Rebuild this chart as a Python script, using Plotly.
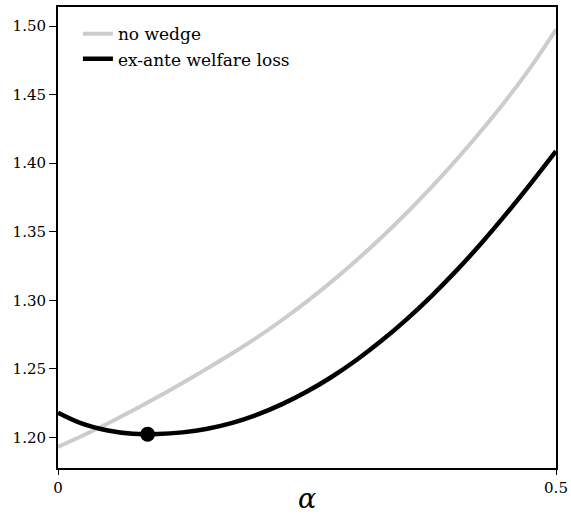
import plotly.graph_objects as go

alpha = [0.000, 0.025, 0.050, 0.075, 0.100, 0.125, 0.150, 0.175, 0.200, 0.225,
         0.250, 0.275, 0.300, 0.325, 0.350, 0.375, 0.400, 0.425, 0.450, 0.475, 0.500]

no_wedge = [1.1930, 1.2013, 1.2101, 1.2195, 1.2294, 1.2397, 1.2503, 1.2613, 1.2729, 1.2856,
            1.2992, 1.3138, 1.3294, 1.3460, 1.3637, 1.3825, 1.4025, 1.4237, 1.4462, 1.4705, 1.4975]

welfare_loss = [1.2180, 1.2098, 1.2050, 1.2026, 1.2024, 1.2036, 1.2062, 1.2105, 1.2165, 1.2242,
                1.2334, 1.2442, 1.2566, 1.2706, 1.2861, 1.3031, 1.3216, 1.3416, 1.3630, 1.3855, 1.4088]

min_alpha = [0.09]
min_loss = [1.2022]

y_ticks = [1.20, 1.25, 1.30, 1.35, 1.40, 1.45, 1.50]
x_ticks = [0, 0.5]
x_tick_labels = ["0", "0.5"]
x_title = "<i>α</i>"

FONT = "DejaVu Serif"

fig = go.Figure()
fig.add_trace(go.Scatter(x=alpha, y=no_wedge, mode="lines", name="no wedge",
                         line=dict(color="#cccccc", width=4, shape="spline", smoothing=1.0)))
fig.add_trace(go.Scatter(x=alpha, y=welfare_loss, mode="lines", name="ex-ante welfare loss",
                         line=dict(color="black", width=4.5, shape="spline", smoothing=1.0)))
fig.add_trace(go.Scatter(x=min_alpha, y=min_loss, mode="markers", showlegend=False,
                         marker=dict(color="black", size=15)))

fig.update_layout(
    width=571, height=517,
    margin=dict(l=58, r=15, t=7, b=49),
    paper_bgcolor="white", plot_bgcolor="white",
    font=dict(family=FONT, color="black", size=15),
    legend=dict(x=0.04, y=0.98, xanchor="left", yanchor="top",
                bgcolor="rgba(0,0,0,0)", font=dict(family=FONT, size=17),
                tracegroupgap=0),
    xaxis=dict(range=[0, 0.5], tickvals=x_ticks, ticktext=x_tick_labels,
               showgrid=False, zeroline=False, showline=True, mirror=True,
               linecolor="black", linewidth=2, ticks="outside", ticklen=5,
               tickwidth=1, tickcolor="black", tickfont=dict(family=FONT, size=15),
               automargin=False),
    yaxis=dict(range=[1.1776, 1.514], tickvals=y_ticks, tickformat=".2f",
               showgrid=False, zeroline=False, showline=True, mirror=True,
               automargin=False,
               linecolor="black", linewidth=2, ticks="outside", ticklen=7,
               tickwidth=1, tickcolor="black", tickfont=dict(family=FONT, size=15)),
    annotations=[dict(text=x_title, xref="paper", yref="paper", x=0.5, y=-0.104,
                      xanchor="center", yanchor="bottom", showarrow=False,
                      font=dict(family=FONT, size=27, color="black"))],
)

fig.write_html("out.html")
